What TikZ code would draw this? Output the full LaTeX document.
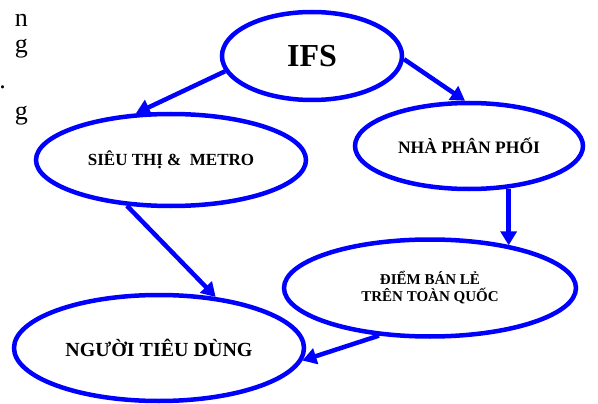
\documentclass[tikz,border=0pt]{standalone}
\usepackage{fontspec}
\setmainfont{Liberation Serif}
\usetikzlibrary{
  arrows.meta,
  positioning,
  shapes.geometric
}
\definecolor{ifsblue}{HTML}{0000FF}

\begin{document}
\begin{tikzpicture}[
  x=1pt, y=-1pt,
  bubble/.style={draw=ifsblue, ellipse, line width=4.5pt, inner sep=0pt, align=center},
  flow/.style={-{Triangle[width=16pt,length=14pt]}, line width=4.5pt, draw=ifsblue},
  frag/.style={inner sep=0pt, font=\fontsize{26}{30}\selectfont}
]
  \useasboundingbox (0,0) rectangle (598,404);

  % Cut-off text at the left edge
  \node[frag, anchor=base east] (fragA) at (28,27) {n};
  \node[frag, anchor=base east] (fragB) at (28,53) {g};
  \node[frag, anchor=base east] (fragC) at (6,89) {.};
  \node[frag, anchor=base east] (fragD) at (28,120) {g};

  % Bubbles
  \node[bubble, minimum width=180pt, minimum height=88pt,
    font=\bfseries\fontsize{32}{36}\selectfont] (ifs) at (312,56) {IFS};
  \node[bubble, minimum width=270pt, minimum height=92pt,
    font=\bfseries\fontsize{17}{20}\selectfont] (st) at (171,160) {SIÊU THỊ \& \ METRO};
  \node[bubble, minimum width=228pt, minimum height=86pt,
    font=\bfseries\fontsize{17.5}{20}\selectfont] (npp) at (469,146) {NHÀ PHÂN PHỐI};
  \node[bubble, minimum width=292pt, minimum height=97pt,
    font=\bfseries\fontsize{15}{17}\selectfont] (dbl) at (430,288) {ĐIỂM BÁN LẺ\\TRÊN TOÀN QUỐC};
  \node[bubble, minimum width=290pt, minimum height=106pt,
    font=\bfseries\fontsize{20}{24}\selectfont] (ntd) at (159,348) {NGƯỜI TIÊU DÙNG};

  % Arrows
  \draw[flow] (ifs.190) -- (st.127);
  \draw[flow] (ifs.-2) -- (npp.95);
  \draw[flow] (st.226) -- (ntd.42);
  \draw[flow] (npp.-47) -- (npp.-47 |- dbl.28);
  \draw[flow] (dbl.223) -- (ntd.-5);

\end{tikzpicture}
\end{document}
